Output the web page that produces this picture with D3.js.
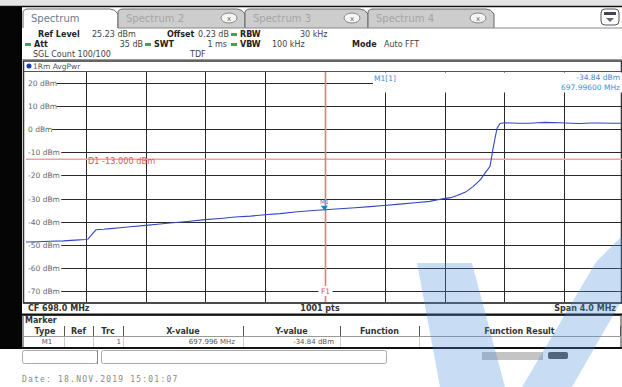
<!DOCTYPE html>
<html><head><meta charset="utf-8">
<script src="https://cdn.jsdelivr.net/npm/d3@7/dist/d3.min.js"></script>
<style>
body{margin:0;background:#fff;overflow:hidden}
text{font-family:"DejaVu Sans",Verdana,sans-serif}
</style>
</head><body>
<svg id="c" width="622" height="387"></svg>
<script>
// ---- data ----
const freqMHz = [696.000,696.080,696.161,696.250,696.328,696.400,696.415,696.441,696.468,696.520,696.562,696.630,696.696,696.803,696.880,696.963,697.080,697.197,697.300,697.398,697.500,697.599,697.700,697.799,697.900,697.996,698.100,698.201,698.300,698.395,698.500,698.602,698.700,698.796,698.840,698.883,698.940,698.990,699.040,699.070,699.104,699.124,699.137,699.151,699.171,699.200,699.237,699.300,699.371,699.420,699.472,699.520,699.572,699.640,699.706,699.780,699.839,699.920,700.000];
const levelDbm = [-48.8,-48.7,-48.5,-48.3,-48.0,-47.7,-47.5,-45.5,-43.5,-43.3,-43.0,-42.6,-42.2,-41.6,-41.1,-40.6,-39.9,-39.1,-38.6,-38.0,-37.6,-37.0,-36.5,-35.8,-35.3,-34.84,-34.4,-34.0,-33.5,-33.0,-32.4,-31.8,-31.2,-30.0,-29.6,-28.7,-27.2,-24.8,-21.8,-19.0,-16.0,-8.4,-4.0,0.5,2.5,2.8,2.7,2.6,2.6,2.8,3.0,2.9,2.8,2.6,2.5,2.7,2.7,2.6,2.6];
const yTickValues = [20,10,0,-10,-20,-30,-40,-50,-60,-70];
const yTickLabels = ["20 dBm","10 dBm","0 dBm","-10 dBm","-20 dBm","-30 dBm","-40 dBm","-50 dBm","-60 dBm","-70 dBm"];
const xGridMHz = [696.4,696.8,697.2,697.6,698.0,698.4,698.8,699.2,699.6];
const refLevelDbm = 25.23, rangeDb = 100;
const startMHz = 696.0, stopMHz = 700.0;
const displayLineDbm = -13.0;
const f1MHz = 698.0;
const markerMHz = 697.996, markerDbm = -34.84;
const tabNames = ["Spectrum","Spectrum 2","Spectrum 3","Spectrum 4"];
const tableHeaders = ["Type","Ref","Trc","X-value","Y-value","Function","Function Result"];
const tableRow = ["M1","","1","697.996 MHz","-34.84 dBm","",""];

const svg = d3.select("#c");
const x = d3.scaleLinear().domain([startMHz, stopMHz]).range([26, 624]);
const y = d3.scaleLinear().domain([refLevelDbm - rangeDb, refLevelDbm]).range([302, 71]);

// ---- chrome ----
svg.append("rect").attr("width",622).attr("height",387).attr("fill","#fff");
svg.append("rect").attr("x",0).attr("y",0).attr("width",622).attr("height",6).attr("fill","#e4e4e4");
svg.append("line").attr("x1",0).attr("x2",622).attr("y1",6.5).attr("y2",6.5).attr("stroke","#111").attr("stroke-width",1.5);
svg.append("rect").attr("x",0).attr("y",7).attr("width",22).attr("height",342).attr("fill","#050505");

// tabs
const tabX = [23,118,245,368,494];
tabNames.forEach((tn,i)=>{
  const x0 = tabX[i], x1 = tabX[i+1];
  const active = i===0;
  svg.append("path")
    .attr("d",`M${x0},28 L${x0},13 Q${x0},9 ${x0+5},9 L${x1-8},9 Q${x1-3},9 ${x1},14 L${x1},28`)
    .attr("fill", active ? "#fff" : "#cdcdcd")
    .attr("stroke","#666").attr("stroke-width",1);
  svg.append("text").attr("x",x0+8).attr("y",22).attr("font-size",10)
    .attr("fill", active ? "#6a7d90" : "#a5a5a5").text(tn);
  if(!active){
    svg.append("ellipse").attr("cx",x1-16).attr("cy",18).attr("rx",8).attr("ry",5)
      .attr("fill","#f4f4f4").attr("stroke","#888");
    svg.append("text").attr("x",x1-16).attr("y",20.5).attr("font-size",7).attr("text-anchor","middle")
      .attr("fill","#666").text("x");
  }
});
svg.append("line").attr("x1",118).attr("x2",622).attr("y1",28).attr("y2",28).attr("stroke","#888");
// top-right icon
svg.append("rect").attr("x",601).attr("y",9).attr("width",18).attr("height",16).attr("rx",4)
  .attr("fill","#fff").attr("stroke","#555");
svg.append("rect").attr("x",604).attr("y",12).attr("width",12).attr("height",3).attr("fill","#445");
svg.append("path").attr("d","M606,18 L614,18 L610,22 Z").attr("fill","#667");

// info rows
function t(xp, yp, s, opts={}){
  const e = svg.append("text").attr("x",xp).attr("y",yp).attr("font-size",opts.size||8)
    .attr("fill",opts.fill||"#222").attr("font-weight",opts.bold?"bold":"normal")
    .attr("text-anchor",opts.anchor||"start").text(s);
  if(opts.family) e.style("font-family",opts.family);
  if(opts.ls) e.attr("letter-spacing",opts.ls);
  return e;
}
function dash(xp, yp){ svg.append("rect").attr("x",xp).attr("y",yp-4).attr("width",6).attr("height",3).attr("fill","#39a845"); }
t(38,37,"Ref Level",{bold:true}); t(92,37,"25.23 dBm",{fill:"#444"});
t(167,37,"Offset",{bold:true}); t(198,37,"0.23 dB",{fill:"#444"}); dash(231,37);
t(240,37,"RBW",{bold:true}); t(300,37,"30 kHz",{fill:"#444"});
dash(25,47); t(34,47,"Att",{bold:true}); t(143,47,"35 dB",{fill:"#444",anchor:"end"}); dash(145,47);
t(154,47,"SWT",{bold:true}); t(227,47,"1 ms",{fill:"#444",anchor:"end"}); dash(231,47);
t(240,47,"VBW",{bold:true}); t(272,47,"100 kHz",{fill:"#444"});
t(352,47,"Mode",{bold:true}); t(384,47,"Auto FFT",{fill:"#444"});
t(33,57,"SGL Count 100/100",{fill:"#444"}); t(190,57,"TDF",{fill:"#444"});
svg.append("line").attr("x1",22).attr("x2",622).attr("y1",59.5).attr("y2",59.5).attr("stroke","#999");

// plot frame
svg.append("rect").attr("x",23.5).attr("y",61).attr("width",598).attr("height",242).attr("fill","#fff")
  .attr("stroke","#333").attr("stroke-width",1.5);
svg.append("circle").attr("cx",29).attr("cy",66).attr("r",2.5).attr("fill","#1a3ab8");
t(33,69,"1Rm AvgPwr",{size:7.5,fill:"#555"});
svg.append("line").attr("x1",24).attr("x2",622).attr("y1",71.5).attr("y2",71.5).attr("stroke","#555");

// grid
const gridG = svg.append("g");
gridG.selectAll("line.h").data(yTickValues).join("line")
  .attr("x1",26).attr("x2",622).attr("y1",d=>Math.round(y(d))+0.5).attr("y2",d=>Math.round(y(d))+0.5)
  .attr("stroke","#2a2a2a").attr("stroke-width",1);
gridG.selectAll("line.v").data(xGridMHz).join("line")
  .attr("x1",d=>Math.round(x(d))+0.5).attr("x2",d=>Math.round(x(d))+0.5).attr("y1",72).attr("y2",302)
  .attr("stroke","#2a2a2a").attr("stroke-width",1);
// y labels with white backgrounds
const lab = svg.append("g");
yTickValues.forEach((v,i)=>{
  const yy = y(v);
  const w = yTickLabels[i].length*4.6+3;
  lab.append("rect").attr("x",26).attr("y",yy-5).attr("width",w).attr("height",10).attr("fill","#fff");
  lab.append("text").attr("x",28).attr("y",yy+3).attr("font-size",7.5).attr("fill","#666").text(yTickLabels[i]);
});

// marker info box
svg.append("rect").attr("x",373).attr("y",72.5).attr("width",249).attr("height",20).attr("fill","#fff");
t(374,81,"M1[1]",{size:7.5,fill:"#3a8fd6"});
t(620,80,"-34.84 dBm",{size:7.5,fill:"#3a8fd6",anchor:"end"});
t(620,90,"697.99600 MHz",{size:7.5,fill:"#3a8fd6",anchor:"end"});

// display line D1
svg.append("line").attr("x1",26).attr("x2",622).attr("y1",y(displayLineDbm)).attr("y2",y(displayLineDbm))
  .attr("stroke","#f4a0a0").attr("stroke-width",1.6);
t(88,164,"D1  -13.000 dBm",{size:8.2,fill:"#e35858"});

// F1 line (covers the centre grid line)
const f1x = Math.round(x(f1MHz))+0.5;
svg.append("line").attr("x1",f1x).attr("x2",f1x).attr("y1",72).attr("y2",302)
  .attr("stroke","#ee7676").attr("stroke-width",1.6);
svg.append("rect").attr("x",f1x-7).attr("y",286).attr("width",14).attr("height",10).attr("fill","#fff");
t(f1x,294,"F1",{size:7.5,fill:"#e35858",anchor:"middle"});

// trace
const pts = freqMHz.map((f,i)=>[f,levelDbm[i]]);
svg.append("path").datum(pts)
  .attr("d", d3.line().x(d=>x(d[0])).y(d=>y(d[1])))
  .attr("fill","none").attr("stroke","#3346c4").attr("stroke-width",1.1);

// marker
const mx = x(markerMHz), my = y(markerDbm);
svg.append("path").attr("d",`M${mx-3.5},${my-4} L${mx+3.5},${my-4} L${mx},${my+1} Z`).attr("fill","#1f7fcf");
t(mx,my-6,"M1",{size:6,fill:"#4a90d0",anchor:"middle"});

// bottom info bar
svg.append("line").attr("x1",24).attr("x2",622).attr("y1",303).attr("y2",303).attr("stroke","#333").attr("stroke-width",1.2);
t(28,311,"CF 698.0 MHz",{size:8,bold:true,fill:"#333"});
t(320,311,"1001 pts",{size:8,bold:true,fill:"#333",anchor:"middle"});
t(616,311,"Span 4.0 MHz",{size:8,bold:true,fill:"#333",anchor:"end"});
svg.append("line").attr("x1",22).attr("x2",622).attr("y1",314.5).attr("y2",314.5).attr("stroke","#111").attr("stroke-width",2);

// marker table
svg.append("rect").attr("x",23).attr("y",315.5).attr("width",598).attr("height",32).attr("fill","#fff").attr("stroke","#333");
t(25,323,"Marker",{size:8,bold:true,fill:"#333"});
const colDiv = [23,64,93,123,243,340,419,620];
tableHeaders.forEach((h,i)=>{
  const cx = (colDiv[i]+colDiv[i+1])/2;
  t(i===0?45:cx,334,h,{size:8,bold:true,fill:"#333",anchor:"middle"});
});
colDiv.slice(1).forEach(d=>{
  svg.append("line").attr("x1",d+0.5).attr("x2",d+0.5).attr("y1",326).attr("y2",336).attr("stroke","#555");
});
svg.append("line").attr("x1",24).attr("x2",621).attr("y1",336.5).attr("y2",336.5).attr("stroke","#999");
t(47,344,tableRow[0],{size:7,fill:"#555",anchor:"middle"});
t(121,344,tableRow[2],{size:7,fill:"#555",anchor:"end"});
t(235,344,tableRow[3],{size:7,fill:"#555",anchor:"end"});
t(334,344,tableRow[4],{size:7,fill:"#555",anchor:"end"});
[64,93,123,243,340,419].forEach(d=>{
  svg.append("line").attr("x1",d+0.5).attr("x2",d+0.5).attr("y1",337).attr("y2",347).attr("stroke","#ccc");
});
svg.append("line").attr("x1",22).attr("x2",622).attr("y1",348).attr("y2",348).attr("stroke","#111").attr("stroke-width",2);

// status bar
svg.append("rect").attr("x",22.5).attr("y",350.5).attr("width",75).attr("height",13).attr("rx",2).attr("fill","#fff").attr("stroke","#aaa");
svg.append("rect").attr("x",101.5).attr("y",350.5).attr("width",285).attr("height",13).attr("rx",2).attr("fill","#fff").attr("stroke","#aaa");
svg.append("line").attr("x1",97.5).attr("x2",97.5).attr("y1",350).attr("y2",364).attr("stroke","#888");
svg.append("rect").attr("x",482).attr("y",352).attr("width",61).attr("height",8).attr("fill","#c4c4c4");
svg.append("rect").attr("x",548).attr("y",352).attr("width",20).attr("height",7).attr("rx",2).attr("fill","#555");

// date
t(22,382,"Date: 18.NOV.2019  15:01:07",{size:8,fill:"#8a8a8a",family:"'DejaVu Sans Mono',monospace",ls:1.2});

// watermark logo shapes
const wm = svg.append("g").attr("fill","#4a90d9").attr("opacity",0.3);
wm.append("path").attr("d","M417,263 L472,263 L505,387 L440,387 Z");
wm.append("path").attr("d","M596,262 L622,236 L622,300 L572,387 L522,387 Z");
</script>
</body></html>
